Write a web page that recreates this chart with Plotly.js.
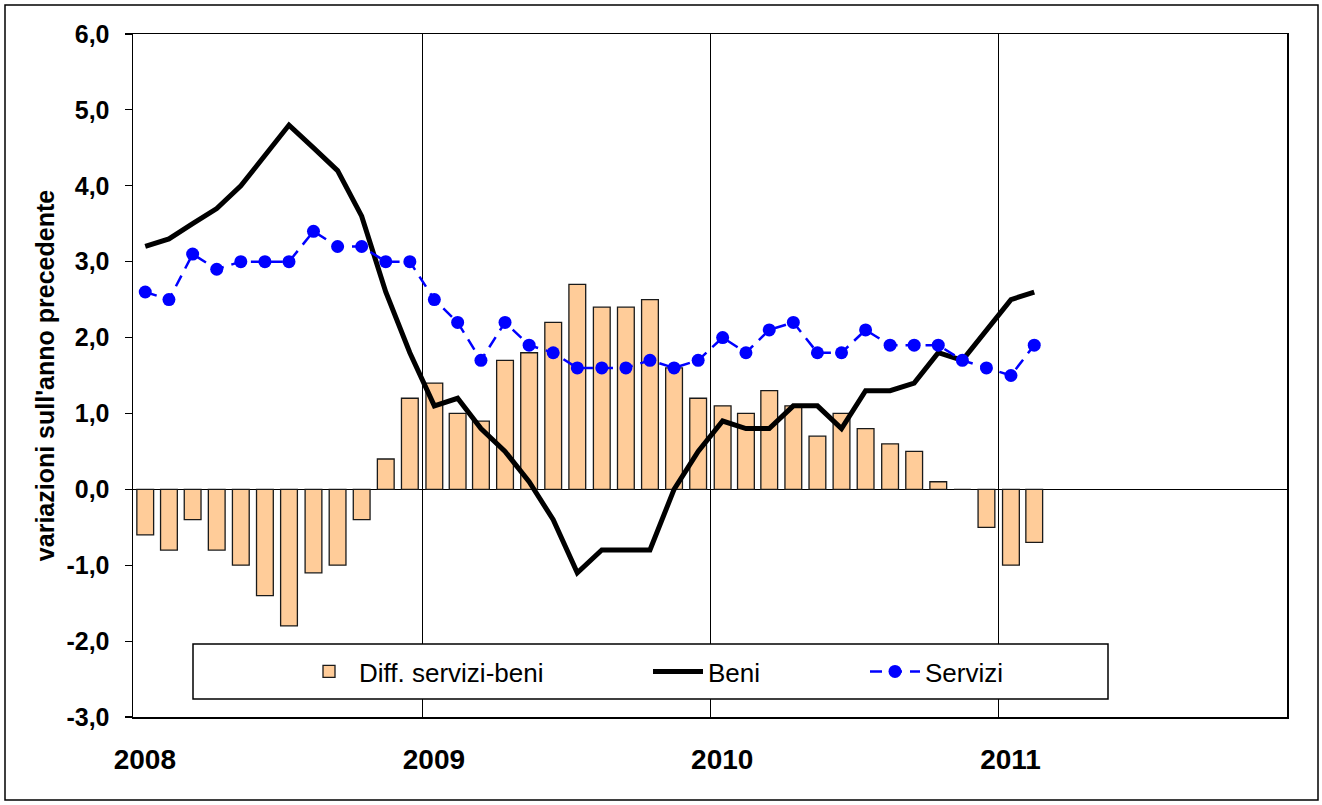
<!DOCTYPE html>
<html>
<head>
<meta charset="utf-8">
<script src="https://cdn.plot.ly/plotly-3.0.1.min.js"></script>
<style>
html,body{margin:0;padding:0;background:#fff;}
#chart{width:1322px;height:805px;}
</style>
</head>
<body>
<div id="chart"></div>
<script>
// Months (Jan 2008 - Feb 2011)
var months = [
  '2008-01','2008-02','2008-03','2008-04','2008-05','2008-06','2008-07','2008-08','2008-09','2008-10','2008-11','2008-12',
  '2009-01','2009-02','2009-03','2009-04','2009-05','2009-06','2009-07','2009-08','2009-09','2009-10','2009-11','2009-12',
  '2010-01','2010-02','2010-03','2010-04','2010-05','2010-06','2010-07','2010-08','2010-09','2010-10','2010-11','2010-12',
  '2011-01','2011-02'
];
var beni = [
  3.2,3.3,3.5,3.7,4.0,4.4,4.8,4.5,4.2,3.6,2.6,1.8,
  1.1,1.2,0.8,0.5,0.1,-0.4,-1.1,-0.8,-0.8,-0.8,0.0,0.5,
  0.9,0.8,0.8,1.1,1.1,0.8,1.3,1.3,1.4,1.8,1.7,2.1,
  2.5,2.6
];
var servizi = [
  2.6,2.5,3.1,2.9,3.0,3.0,3.0,3.4,3.2,3.2,3.0,3.0,
  2.5,2.2,1.7,2.2,1.9,1.8,1.6,1.6,1.6,1.7,1.6,1.7,
  2.0,1.8,2.1,2.2,1.8,1.8,2.1,1.9,1.9,1.9,1.7,1.6,
  1.5,1.9
];
var diff = [
  -0.6,-0.8,-0.4,-0.8,-1.0,-1.4,-1.8,-1.1,-1.0,-0.4,0.4,1.2,
  1.4,1.0,0.9,1.7,1.8,2.2,2.7,2.4,2.4,2.5,1.6,1.2,
  1.1,1.0,1.3,1.1,0.7,1.0,0.8,0.6,0.5,0.1,0.0,-0.5,
  -1.0,-0.7
];
var yearTickVals = ['2008-01-16','2009-01-16','2010-01-16','2011-01-16'];
var yearTickText = ['2008','2009','2010','2011'];
var yTickVals = [-3,-2,-1,0,1,2,3,4,5,6];
var yTickText = ['-3,0','-2,0','-1,0','0,0','1,0','2,0','3,0','4,0','5,0','6,0'];
var seriesNames = ['Diff. servizi-beni','Beni','Servizi'];
var yTitle = "variazioni sull'anno precedente";

var FONT = 'Arial, "Liberation Sans", Helvetica, sans-serif';

var traces = [
  {
    type: 'bar', name: seriesNames[0], x: months, y: diff,
    xperiod: 'M1', xperiodalignment: 'middle',
    marker: {color: 'rgb(255,204,153)', line: {color: '#1a1a1a', width: 1.3}},
    legend: 'legend', hoverinfo: 'x+y'
  },
  {
    type: 'scatter', mode: 'lines', name: seriesNames[1], x: months, y: beni,
    xperiod: 'M1', xperiodalignment: 'middle',
    line: {color: '#000000', width: 5},
    legend: 'legend2'
  },
  {
    type: 'scatter', mode: 'lines+markers', name: seriesNames[2], x: months, y: servizi,
    xperiod: 'M1', xperiodalignment: 'middle',
    line: {color: '#0000FF', width: 2.5, dash: '12px,8px'},
    marker: {color: '#0000FF', size: 13, symbol: 'circle'},
    legend: 'legend3'
  }
];

var L = 133, R = 35, T = 34, B = 88;
var W = 1322, H = 805;
var pw = W - L - R, ph = H - T - B;
function px2x(p){ return (p - L) / pw; }
function py2y(p){ return (H - B - p) / ph; }

var legendCommon = {
  orientation: 'v', bgcolor: 'rgba(0,0,0,0)', borderwidth: 0,
  font: {family: FONT, size: 26, color: '#000'},
  xanchor: 'left', yanchor: 'middle', y: py2y(671.5), itemwidth: 50
};
function leg(xpx){ var o = Object.assign({}, legendCommon); o.x = px2x(xpx); return o; }

var layout = {
  width: W, height: H,
  margin: {l: L, r: R, t: T, b: B, pad: 0},
  paper_bgcolor: '#fff', plot_bgcolor: '#fff',
  separators: ',.',
  bargap: 0.28,
  showlegend: true,
  legend: leg(299),
  legend2: leg(648),
  legend3: leg(865),
  xaxis: {
    type: 'date',
    range: ['2008-01-01', '2012-01-01'],
    tickmode: 'array', tickvals: yearTickVals, ticktext: yearTickText,
    ticks: '', showgrid: false, zeroline: false,
    showline: true, linecolor: '#000', linewidth: 1.5, mirror: true,
    tickfont: {family: FONT, size: 28, color: '#000', weight: 'bold'},
    ticklabelstandoff: 17,
    minor: {tick0: '2008-01-01', dtick: 'M12', showgrid: true, gridcolor: '#000', gridwidth: 1, ticks: ''}
  },
  yaxis: {
    range: [-3, 6], tickmode: 'array', tickvals: yTickVals, ticktext: yTickText,
    ticks: 'outside', ticklen: 7, tickcolor: '#000', tickwidth: 1.2,
    showgrid: false,
    zeroline: true, zerolinecolor: '#000', zerolinewidth: 1.2,
    showline: true, linecolor: '#000', linewidth: 1.5, mirror: true,
    tickfont: {family: FONT, size: 25, color: '#000', weight: 'bold'},
    ticklabelstandoff: 10,
    title: {text: yTitle, font: {family: FONT, size: 25, color: '#000', weight: 'bold'}, standoff: 4}
  },
  shapes: [
    {type: 'rect', xref: 'paper', yref: 'paper', x0: px2x(193), x1: px2x(1108), y0: py2y(699), y1: py2y(644),
     line: {color: '#000', width: 1.5}, fillcolor: '#fff', layer: 'above'},
    {type: 'rect', xref: 'paper', yref: 'paper', x0: px2x(5), x1: px2x(1318), y0: py2y(800), y1: py2y(5),
     line: {color: '#000', width: 1.5}, fillcolor: 'rgba(0,0,0,0)', layer: 'above'}
  ]
};

Plotly.newPlot('chart', traces, layout, {displayModeBar: false, staticPlot: true});
</script>
</body>
</html>
